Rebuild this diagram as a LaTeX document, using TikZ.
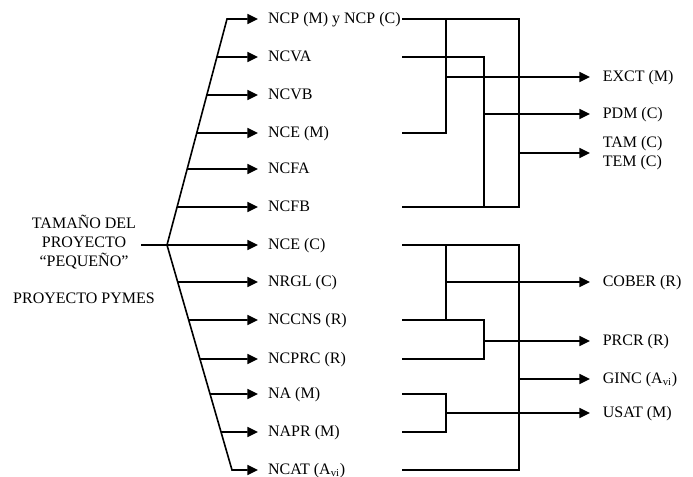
\documentclass[tikz,border=0pt]{standalone}
\usepackage{fontspec}
\setmainfont{Liberation Serif}
\usetikzlibrary{arrows.meta}

\tikzset{
    lbl/.style={anchor=west, inner xsep=7pt, inner ysep=0pt, text height=1.5ex, text depth=.1ex},
    flecha/.style={-{Triangle[length=8pt,width=7.5pt]}},
}

\begin{document}
\begin{tikzpicture}[x=0.75pt, y=-0.75pt, line width=1.2pt, font=\fontsize{12}{14}\selectfont]
    \useasboundingbox (0,0) rectangle (693,477);

    \node[align=center] (titulo) at (84,242) {TAMAÑO DEL\\PROYECTO\\“PEQUEÑO”};
    \node (pymes) at (84,298) {PROYECTO PYMES};

    \coordinate (apex) at (167,245);
    \coordinate (arriba) at (227,19);
    \coordinate (abajo) at (232,470);

    % columnas
    \coordinate (colR) at (402,0);
    \coordinate (c1) at (446,0);
    \coordinate (c2) at (484,0);
    \coordinate (c3) at (519,0);
    \coordinate (fin) at (590,0);

    % etiquetas izquierda
    \node[lbl] (ncp) at (258,19) {NCP (M) y NCP (C)};
    \node[lbl] (ncva) at (258,57) {NCVA};
    \node[lbl] (ncvb) at (258,95) {NCVB};
    \node[lbl] (nceM) at (258,133) {NCE (M)};
    \node[lbl] (ncfa) at (258,169) {NCFA};
    \node[lbl] (ncfb) at (258,207) {NCFB};
    \node[lbl] (nceC) at (258,245) {NCE (C)};
    \node[lbl] (nrgl) at (258,282) {NRGL (C)};
    \node[lbl] (nccns) at (258,320) {NCCNS (R)};
    \node[lbl] (ncprc) at (258,359) {NCPRC (R)};
    \node[lbl] (na) at (258,394) {NA (M)};
    \node[lbl] (napr) at (258,432) {NAPR (M)};
    \node[lbl] (ncat) at (258,470) {NCAT (A\textsubscript{vi})};

    % etiquetas derecha
    \node[lbl, inner xsep=9pt] (exct) at (fin |- 0,77) {EXCT (M)};
    \node[lbl, inner xsep=9pt] (pdm) at (fin |- 0,114) {PDM (C)};
    \node[anchor=west, inner xsep=9pt, inner ysep=0pt, align=left] (tam) at (fin |- 0,153) {TAM (C)\\TEM (C)};
    \node[lbl, inner xsep=9pt] (cober) at (fin |- 0,282) {COBER (R)};
    \node[lbl, inner xsep=9pt] (prcr) at (fin |- 0,341) {PRCR (R)};
    \node[lbl, inner xsep=9pt] (ginc) at (fin |- 0,379) {GINC (A\textsubscript{vi})};
    \node[lbl, inner xsep=9pt] (usat) at (fin |- 0,413) {USAT (M)};

    % abanico
    \draw (titulo.east |- apex) -- (apex);
    \draw[flecha] (apex) -- (arriba) -- (ncp.west);
    \draw[flecha] (apex) -- (abajo) -- (ncat.west);
    \draw[flecha] (apex) -- (nceC.west);
    \foreach \n in {ncva,ncvb,nceM,ncfa,ncfb}
        \draw[flecha] (intersection of apex--arriba and \n.west--\n.east) -- (\n.west);
    \foreach \n in {nrgl,nccns,ncprc,na,napr}
        \draw[flecha] (intersection of apex--abajo and \n.west--\n.east) -- (\n.west);

    % grupo superior
    \draw (ncp -| colR) -- (ncp -| c3) -- (ncfb -| c3) -- (ncfb -| colR);
    \draw (ncp -| c1) |- (nceM -| colR);
    \draw (ncva -| colR) -| (ncfb -| c2);
    \draw[flecha] (exct -| c1) -- (exct.west);
    \draw[flecha] (pdm -| c2) -- (pdm.west);
    \draw[flecha] (tam -| c3) -- (tam.west);

    % grupo inferior
    \draw (nceC -| colR) -- (nceC -| c3) -- (ncat -| c3) -- (ncat -| colR);
    \draw (nceC -| c1) -- (nccns -| c1);
    \draw (nccns -| colR) -| (ncprc -| c2) -- (ncprc -| colR);
    \draw (na -| colR) -| (napr -| c1) -- (napr -| colR);
    \draw[flecha] (cober -| c1) -- (cober.west);
    \draw[flecha] (prcr -| c2) -- (prcr.west);
    \draw[flecha] (ginc -| c3) -- (ginc.west);
    \draw[flecha] (usat -| c1) -- (usat.west);
\end{tikzpicture}
\end{document}
